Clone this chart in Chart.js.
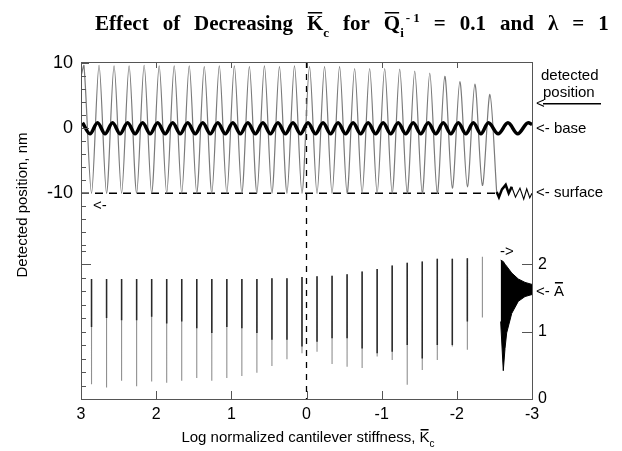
<!DOCTYPE html>
<html>
<head>
<meta charset="utf-8">
<script src="https://cdn.jsdelivr.net/npm/chart.js@4.4.0/dist/chart.umd.min.js"></script>
<style>
  html, body { margin: 0; padding: 0; background: #fff; }
  #wrap { position: relative; width: 622px; height: 451px; }
</style>
</head>
<body>
<div id="wrap"><canvas id="chart"></canvas></div>
<script>
// axis: log normalized cantilever stiffness, runs from 3 (left) to -3 (right)
const xTickValues = [3, 2, 1, 0, -1, -2, -3];
const leftTickValues = [10, 0, -10];
const rightTickValues = [2, 1, 0];

// detected position (nm), thin grey trace: peaks and troughs
const detX = [3.00, 2.96, 2.86, 2.76, 2.66, 2.56, 2.46, 2.36, 2.26, 2.16, 2.06, 1.96, 1.86, 1.76, 1.66,
  1.56, 1.46, 1.36, 1.26, 1.16, 1.06, 0.96, 0.86, 0.76, 0.66, 0.56, 0.46, 0.36, 0.26, 0.16, 0.06,
  -0.04, -0.14, -0.24, -0.34, -0.44, -0.54, -0.64, -0.74, -0.84, -0.94, -1.04, -1.14, -1.24, -1.34,
  -1.44, -1.54, -1.64, -1.74, -1.84, -1.94, -2.04, -2.14, -2.24, -2.34, -2.44, -2.53];
const detY = [8.0, 9.6, -10, 9.7, -10, 9.6, -10, 9.6, -10, 9.7, -10, 9.6, -10, 9.6, -10,
  9.6, -10, 9.5, -10, 9.6, -10, 9.6, -10, 9.5, -10, 9.6, -10, 9.5, -10, 9.6, -10,
  9.5, -10, 9.5, -10, 9.5, -10, 9.2, -10, 9.2, -10, 9.2, -10, 9.1, -10,
  8.8, -10, 8.5, -10, 8.0, -9.2, 7.2, -9.0, 6.8, -8.8, 5.2, -9.8];

// base position (nm), thick black trace: crests and troughs
const baseX = [2.98, 2.88, 2.78, 2.68, 2.58, 2.48, 2.38, 2.28, 2.18, 2.08, 1.98, 1.88, 1.78, 1.68,
  1.58, 1.48, 1.38, 1.28, 1.18, 1.08, 0.98, 0.88, 0.78, 0.68, 0.58, 0.48, 0.38, 0.28, 0.18, 0.08,
  -0.02, -0.12, -0.22, -0.32, -0.42, -0.52, -0.62, -0.72, -0.82, -0.92, -1.02, -1.12, -1.22, -1.32,
  -1.42, -1.52, -1.62, -1.72, -1.82, -1.92, -2.02, -2.12, -2.22, -2.32, -2.42, -2.55, -2.68, -2.81,
  -2.95, -3.00];
const baseY = [0.85, -0.85, 0.85, -0.85, 0.85, -0.85, 0.85, -0.85, 0.85, -0.85, 0.85, -0.85, 0.85, -0.85,
  0.85, -0.85, 0.85, -0.85, 0.85, -0.85, 0.85, -0.85, 0.85, -0.85, 0.85, -0.85, 0.85, -0.85, 0.85, -0.85,
  0.85, -0.85, 0.85, -0.85, 0.85, -0.85, 0.85, -0.85, 0.85, -0.85, 0.85, -0.85, 0.85, -0.85,
  0.85, -0.85, 0.85, -0.85, 0.85, -0.85, 0.85, -0.85, 0.85, -0.85, 0.85, -0.85, 0.85, -0.85,
  0.85, 0.6];

// tip squiggle at the surface after the jump (nm)
const tipThickX = [-2.53, -2.56, -2.60, -2.65, -2.69, -2.73];
const tipThickY = [-9.8, -10.6, -9.4, -8.7, -10.0, -9.0];
const tipThinX = [-2.73, -2.78, -2.84, -2.89, -2.93, -2.97, -3.00];
const tipThinY = [-9.0, -10.6, -9.2, -10.9, -9.3, -10.7, -10.0];

// surface level and the Kc = 1 marker
const surfaceX = [3, -2.53];
const surfaceY = [-10, -10];
const markX = [0, 0];
const markY = [10.2, -41.65];

// normalized amplitude A (right axis): one spike per cycle
const spikeX = [2.86, 2.66, 2.46, 2.26, 2.06, 1.86, 1.66, 1.46, 1.26, 1.06, 0.86, 0.66, 0.46, 0.26,
  0.06, -0.14, -0.34, -0.54, -0.74, -0.94, -1.14, -1.34, -1.54, -1.74, -1.94, -2.14, -2.34];
const spikeTop = [1.78, 1.78, 1.78, 1.78, 1.78, 1.78, 1.78, 1.78, 1.78, 1.78, 1.78, 1.78, 1.79, 1.79,
  1.81, 1.82, 1.83, 1.85, 1.89, 1.93, 1.98, 2.02, 2.04, 2.08, 2.08, 2.09, 2.11];
const spikeMid = [1.07, 1.20, 1.17, 1.17, 1.22, 1.12, 1.15, 1.05, 0.98, 1.07, 1.05, 0.98, 0.88, 0.88,
  0.78, 0.85, 0.90, 0.90, 0.75, 0.68, 0.70, 0.80, 0.60, 0.80, 0.80, 1.15, 2.11];
const spikeBot = [0.22, 0.17, 0.27, 0.19, 0.26, 0.24, 0.27, 0.31, 0.27, 0.31, 0.34, 0.39, 0.49, 0.59,
  0.68, 0.70, 0.52, 0.48, 0.46, 0.63, 0.58, 0.21, 0.43, 0.58, 0.78, 0.73, 1.21];

// decaying amplitude envelope once the tip stays on the surface
const envX = [-2.583, -2.618, -2.641, -2.663, -2.73, -2.818, -2.907, -3.0];
const envTop = [2.06, 2.04, 2.00, 1.97, 1.87, 1.78, 1.73, 1.70];
const envBot = [1.15, 0.42, 0.75, 0.98, 1.27, 1.45, 1.52, 1.55];

const pts = (xs, ys) => xs.map((x, i) => ({ x: x, y: ys[i] }));
function spikes(tops, bots) {
  const out = [];
  spikeX.forEach((x, i) => {
    out.push({ x: x, y: tops[i] }, { x: x, y: bots[i] }, { x: x, y: null });
  });
  return out;
}

const SANS = '"Liberation Sans", Arial, sans-serif';
const SERIF = '"Liberation Serif", "Times New Roman", serif';

function drawParts(ctx, x, y, parts) {
  parts.forEach(p => {
    x += p.gap || 0;
    ctx.font = p.font;
    const w = ctx.measureText(p.t).width;
    ctx.fillText(p.t, x, y + (p.dy || 0));
    if (p.over) {
      ctx.fillRect(x + 1, y - p.over, w - 2, 1.5);
    }
    x += w;
  });
  return x;
}

const decor = {
  id: 'decor',
  afterDraw(chart) {
    const { ctx, chartArea: a, scales } = chart;
    const sx = scales.x, sy = scales.y, sy2 = scales.y2;
    ctx.save();
    ctx.strokeStyle = '#555';
    ctx.lineWidth = 1;
    ctx.strokeRect(Math.round(a.left) + 0.5, Math.round(a.top) + 0.5,
      Math.round(a.right - a.left), Math.round(a.bottom - a.top));

    ctx.beginPath();
    // left axis ticks (nm in upper part, A in lower part)
    for (let v = 10; v >= -18; v -= 2) {
      const p = Math.round(sy.getPixelForValue(v)) + 0.5;
      const len = leftTickValues.includes(v) ? 8 : 5;
      ctx.moveTo(a.left, p); ctx.lineTo(a.left + len, p);
    }
    for (let v = 0.2; v < 2.3; v += 0.2) {
      const p = Math.round(sy2.getPixelForValue(v)) + 0.5;
      const len = Math.abs(v - 2) < 0.01 ? 10 : 5;
      ctx.moveTo(a.left, p); ctx.lineTo(a.left + len, p);
    }
    // right axis ticks
    [1, 2].forEach(v => {
      const p = Math.round(sy2.getPixelForValue(v)) + 0.5;
      ctx.moveTo(a.right, p); ctx.lineTo(a.right - 10, p);
    });
    // top and bottom ticks
    [2, 1, 0, -1, -2].forEach(v => {
      const p = Math.round(sx.getPixelForValue(v)) + 0.5;
      ctx.moveTo(p, a.top); ctx.lineTo(p, a.top + 6);
      ctx.moveTo(p, a.bottom); ctx.lineTo(p, a.bottom - 8);
    });
    ctx.stroke();

    ctx.fillStyle = '#000';
    ctx.textBaseline = 'alphabetic';
    ctx.textAlign = 'left';

    // main title
    const tb = 'bold 21px ' + SERIF;
    const ts = 'bold 13px ' + SERIF;
    drawParts(ctx, 95, 30, [
      { t: 'Effect', font: tb },
      { t: 'of', font: tb, gap: 14 },
      { t: 'Decreasing', font: tb, gap: 14 },
      { t: 'K', font: tb, gap: 14, over: 18 },
      { t: 'c', font: ts, dy: 7 },
      { t: 'for', font: tb, gap: 14 },
      { t: 'Q', font: tb, gap: 14, over: 18 },
      { t: 'i', font: ts, dy: 7 },
      { t: '- 1', font: ts, dy: -8, gap: 2 },
      { t: '=', font: tb, gap: 14 },
      { t: '0.1', font: tb, gap: 14 },
      { t: 'and', font: tb, gap: 14 },
      { t: '\u03bb', font: tb, gap: 14 },
      { t: '=', font: tb, gap: 14 },
      { t: '1', font: tb, gap: 14 }
    ]);

    // x axis title
    const f14 = '15px ' + SANS;
    const f10 = '10px ' + SANS;
    ctx.font = f14;
    const w1 = ctx.measureText('Log normalized cantilever stiffness, ').width;
    const w2 = ctx.measureText('K').width;
    ctx.font = f10;
    const w3 = ctx.measureText('c').width;
    drawParts(ctx, 308 - (w1 + w2 + w3) / 2, 442, [
      { t: 'Log normalized cantilever stiffness, ', font: f14 },
      { t: 'K', font: f14, over: 13 },
      { t: 'c', font: f10, dy: 5 }
    ]);

    // y axis title
    ctx.save();
    ctx.translate(27, 205);
    ctx.rotate(-Math.PI / 2);
    ctx.font = f14;
    ctx.textAlign = 'center';
    ctx.fillText('Detected position, nm', 0, 0);
    ctx.restore();

    // annotations
    ctx.font = '15px ' + SANS;
    ctx.textBaseline = 'middle';
    ctx.fillText('detected', 541, 76);
    ctx.fillText('position', 543, 93);
    ctx.fillText('<', 536, 104);
    ctx.fillRect(543, 103, 58, 1.5);
    ctx.fillText('<- base', 536, 129);
    ctx.fillText('<- surface', 536, 193);
    ctx.fillText('<-', 93, 206);
    ctx.fillText('->', 500, 252);
    ctx.fillText('<- ', 536, 292);
    const wa = ctx.measureText('<- ').width;
    ctx.fillText('A', 536 + wa, 292);
    const wA = ctx.measureText('A').width;
    ctx.fillRect(536 + wa + 1, 282, wA - 2, 1.5);
    ctx.restore();
  }
};

const ctx = document.getElementById('chart').getContext('2d');
new Chart(ctx, {
  type: 'line',
  data: {
    datasets: [
      { data: pts(baseX, baseY), yAxisID: 'y', borderColor: '#000', borderWidth: 3.5,
        cubicInterpolationMode: 'monotone' },
      { data: pts(tipThickX, tipThickY), yAxisID: 'y', borderColor: '#000', borderWidth: 2.5 },
      { data: pts(tipThinX, tipThinY), yAxisID: 'y', borderColor: '#000', borderWidth: 1.1 },
      { data: pts(detX, detY), yAxisID: 'y', borderColor: '#7a7a7a', borderWidth: 1.2, tension: 0.3 },
      { data: pts(surfaceX, surfaceY), yAxisID: 'y', borderColor: '#000', borderWidth: 1.5,
        borderDash: [8, 6] },
      { data: pts(markX, markY), yAxisID: 'y', borderColor: '#000', borderWidth: 1.3,
        borderDash: [6, 6] },
      { data: spikes(spikeTop, spikeMid), yAxisID: 'y2', borderColor: '#2a2a2a', borderWidth: 1.5 },
      { data: spikes(spikeTop, spikeBot), yAxisID: 'y2', borderColor: '#909090', borderWidth: 1.1 },
      { data: pts(envX, envTop), yAxisID: 'y2', borderColor: '#000', borderWidth: 1 },
      { data: pts(envX, envBot), yAxisID: 'y2', borderColor: '#000', borderWidth: 1,
        fill: '-1', backgroundColor: '#000' }
    ]
  },
  options: {
    responsive: true,
    maintainAspectRatio: false,
    animation: false,
    events: [],
    elements: { point: { radius: 0 }, line: { tension: 0, fill: false } },
    layout: { padding: { top: 62, left: 0, right: 0, bottom: 0 } },
    plugins: { legend: { display: false }, tooltip: { enabled: false } },
    scales: {
      x: {
        type: 'linear', min: -3, max: 3, reverse: true, position: 'bottom',
        afterBuildTicks: s => { s.ticks = xTickValues.map(v => ({ value: v })); },
        afterFit: s => { s.height = 52; },
        grid: { display: false, drawTicks: false }, border: { display: false },
        ticks: { color: '#000', font: { family: SANS, size: 16 }, padding: 6,
          maxRotation: 0, autoSkip: false, callback: v => String(v) }
      },
      y: {
        type: 'linear', position: 'left', min: -41.65, max: 10.2,
        afterBuildTicks: s => { s.ticks = leftTickValues.map(v => ({ value: v })); },
        afterFit: s => { s.width = 81; },
        grid: { display: false, drawTicks: false }, border: { display: false },
        ticks: { color: '#000', font: { family: SANS, size: 18 }, padding: 8,
          autoSkip: false, callback: v => String(v) }
      },
      y2: {
        type: 'linear', position: 'right', min: 0, max: 5.0,
        afterBuildTicks: s => { s.ticks = rightTickValues.map(v => ({ value: v })); },
        afterFit: s => { s.width = 90; },
        grid: { display: false, drawTicks: false }, border: { display: false },
        ticks: { color: '#000', font: { family: SANS, size: 16 }, padding: 6,
          autoSkip: false, callback: v => String(v) }
      }
    }
  },
  plugins: [decor]
});
</script>
</body>
</html>
